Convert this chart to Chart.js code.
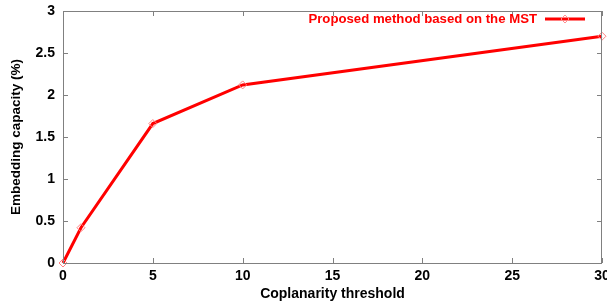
<!DOCTYPE html>
<html>
<head>
<meta charset="utf-8">
<script src="https://cdn.jsdelivr.net/npm/chart.js@4.4.1/dist/chart.umd.min.js"></script>
<style>
  html, body { margin: 0; padding: 0; background: #fff; }
  #wrap { width: 607px; height: 305px; }
</style>
</head>
<body>
<div id="wrap"><canvas id="chart" width="607" height="305"></canvas></div>
<script>
// Datos
const thresholds = [0, 1, 5, 10, 30];
const capacity = [0, 0.42, 1.66, 2.12, 2.70];
const seriesLabel = 'Proposed method based on the MST';
const xTitle = 'Coplanarity threshold';
const yTitle = 'Embedding capacity (%)';

const FONT = 'Liberation Sans, Arial, sans-serif';
const RED = '#ff0000';

// Marco tipo gnuplot con marcas hacia dentro
const framePlugin = {
    id: 'frame',
    afterDatasetsDraw(chart) {
        const { ctx, chartArea: a, scales } = chart;
        ctx.save();
        ctx.strokeStyle = '#808080';
        ctx.lineWidth = 1;
        ctx.strokeRect(a.left + 0.5, a.top + 0.5, a.right - a.left - 1, a.bottom - a.top);
        const len = 5;
        ctx.beginPath();
        scales.x.ticks.forEach(t => {
            const x = Math.round(scales.x.getPixelForValue(t.value)) + 0.5;
            ctx.moveTo(x, a.bottom); ctx.lineTo(x, a.bottom - len);
            ctx.moveTo(x, a.top); ctx.lineTo(x, a.top + len);
        });
        scales.y.ticks.forEach(t => {
            const y = Math.round(scales.y.getPixelForValue(t.value)) + 0.5;
            ctx.moveTo(a.left, y); ctx.lineTo(a.left + len, y);
            ctx.moveTo(a.right, y); ctx.lineTo(a.right - len, y);
        });
        ctx.stroke();

        // Leyenda
        const ly = a.top + 8;
        ctx.fillStyle = RED;
        ctx.font = 'bold 13.2px ' + FONT;
        ctx.textAlign = 'right';
        ctx.textBaseline = 'middle';
        ctx.fillText(seriesLabel, 537, ly);
        ctx.strokeStyle = RED;
        ctx.lineWidth = 3;
        ctx.beginPath();
        ctx.moveTo(545, ly); ctx.lineTo(585, ly);
        ctx.stroke();
        ctx.lineWidth = 1;
        ctx.beginPath();
        ctx.moveTo(565, ly - 4); ctx.lineTo(569, ly); ctx.lineTo(565, ly + 4); ctx.lineTo(561, ly); ctx.closePath();
        ctx.strokeStyle = '#ff9090';
        ctx.stroke();
        ctx.restore();
    }
};

new Chart(document.getElementById('chart'), {
    type: 'line',
    data: {
        datasets: [{
            label: seriesLabel,
            data: thresholds.map((x, i) => ({ x: x, y: capacity[i] })),
            borderColor: RED,
            borderWidth: 3,
            pointStyle: 'rectRot',
            pointRadius: 4,
            pointBorderWidth: 1,
            pointBorderColor: '#ff8080',
            pointBackgroundColor: 'rgba(0,0,0,0)',
            tension: 0,
            clip: false
        }]
    },
    options: {
        responsive: false,
        animation: false,
        layout: { padding: { top: 11, right: 5, left: 0, bottom: 0 } },
        plugins: { legend: { display: false }, tooltip: { enabled: false } },
        scales: {
            x: {
                type: 'linear',
                min: 0, max: 30,
                border: { display: false },
                grid: { display: false, drawTicks: false },
                ticks: { stepSize: 5, padding: 5, color: '#000', font: { family: FONT, size: 14, weight: 'bold' }, maxRotation: 0 },
                title: { display: true, text: xTitle, color: '#000', font: { family: FONT, size: 14, weight: 'bold' }, padding: { top: 2, bottom: 2 } },
                afterFit(s) { s.height = 42; s.paddingRight = 0; s.paddingLeft = 0; }
            },
            y: {
                min: 0, max: 3,
                border: { display: false },
                grid: { display: false, drawTicks: false },
                ticks: { stepSize: 0.5, padding: 8, color: '#000', font: { family: FONT, size: 14, weight: 'bold' }, callback: v => String(v) },
                title: { display: true, text: yTitle, color: '#000', font: { family: FONT, size: 13.5, weight: 'bold' }, padding: { top: 8, bottom: 2 } },
                afterFit(s) { s.width = 63; s.paddingTop = 0; s.paddingBottom = 0; }
            }
        }
    },
    plugins: [framePlugin]
});
</script>
</body>
</html>
